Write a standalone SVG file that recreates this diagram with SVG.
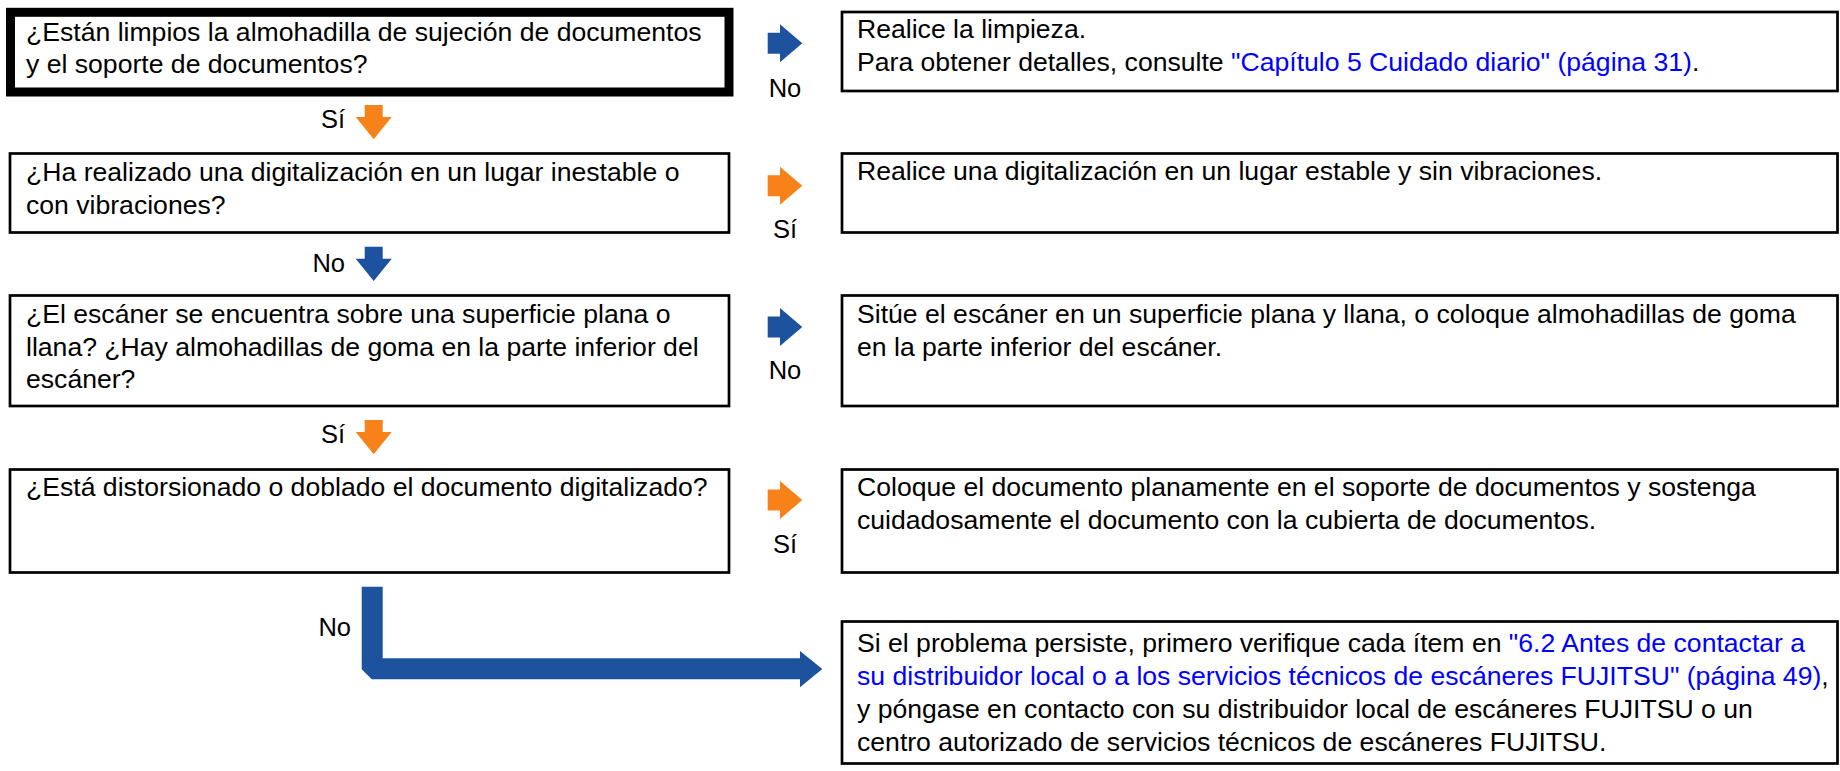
<svg xmlns="http://www.w3.org/2000/svg" width="1840" height="771" viewBox="0 0 1840 771">
<style>
.box{fill:#fff;stroke:#000;stroke-width:2.7}
.thick{fill:#fff;stroke:#000;stroke-width:9}
.t{font-family:"Liberation Sans",Arial,sans-serif;font-size:26.6px;fill:#000}
.lbl{font-family:"Liberation Sans",Arial,sans-serif;font-size:25.5px;fill:#000}
.lk{fill:#0000ff}
.blue{fill:#1c529e}
.orange{fill:#f8821a}
</style>
<defs>
<path id="ar" d="M0,-10.5 H12.3 V-19 L34.6,0 L12.3,19 V10.5 H0 Z"/>
<path id="ad" d="M-9,0 H9 V12 H18 L0,34.3 L-18,12 H-9 Z"/>
</defs>
<rect width="1840" height="771" fill="#fff"/>
<g id="connectors">
<use href="#ar" class="blue" transform="translate(767.7,43.3)"/>
<use href="#ar" class="orange" transform="translate(767.7,185.7)"/>
<use href="#ar" class="blue" transform="translate(767.7,327)"/>
<use href="#ar" class="orange" transform="translate(767.7,500)"/>
<use href="#ad" class="orange" transform="translate(373.7,105)"/>
<use href="#ad" class="blue" transform="translate(373.7,246.7)"/>
<use href="#ad" class="orange" transform="translate(373.7,420)"/>
<polygon class="blue" points="361.7,586.7 382.7,586.7 382.7,658.3 800,658.3 800,651 822.3,669 800,687.3 800,679.3 371.7,679.3 361.7,669.3"/>
<text class="lbl" x="785" y="97" text-anchor="middle">No</text>
<text class="lbl" x="785" y="238" text-anchor="middle">Sí</text>
<text class="lbl" x="785" y="379" text-anchor="middle">No</text>
<text class="lbl" x="785" y="553" text-anchor="middle">Sí</text>
<text class="lbl" x="345" y="128" text-anchor="end">Sí</text>
<text class="lbl" x="345" y="271.7" text-anchor="end">No</text>
<text class="lbl" x="345" y="443.3" text-anchor="end">Sí</text>
<text class="lbl" x="351" y="636" text-anchor="end">No</text>
</g>
<g id="q1">
<rect class="thick" x="10.5" y="12.3" width="718.5" height="79.7"/>
<text class="t" x="26" y="40.5">¿Están limpios la almohadilla de sujeción de documentos</text>
<text class="t" x="26" y="73">y el soporte de documentos?</text>
</g>
<g id="a1">
<rect class="box" x="842" y="12" width="995.5" height="79"/>
<text class="t" x="857" y="38">Realice la limpieza.</text>
<text class="t" x="857" y="70.5">Para obtener detalles, consulte <tspan class="lk">"Capítulo 5 Cuidado diario" (página 31)</tspan>.</text>
</g>
<g id="q2">
<rect class="box" x="10" y="153.5" width="719" height="79"/>
<text class="t" x="26" y="181">¿Ha realizado una digitalización en un lugar inestable o</text>
<text class="t" x="26" y="213.5">con vibraciones?</text>
</g>
<g id="a2">
<rect class="box" x="842" y="153.5" width="995.5" height="79"/>
<text class="t" x="857" y="180">Realice una digitalización en un lugar estable y sin vibraciones.</text>
</g>
<g id="q3">
<rect class="box" x="10" y="295.5" width="719" height="110.5"/>
<text class="t" x="26" y="323">¿El escáner se encuentra sobre una superficie plana o</text>
<text class="t" x="26" y="355.5">llana? ¿Hay almohadillas de goma en la parte inferior del</text>
<text class="t" x="26" y="388">escáner?</text>
</g>
<g id="a3">
<rect class="box" x="842" y="295.5" width="995.5" height="110.5"/>
<text class="t" x="857" y="323">Sitúe el escáner en un superficie plana y llana, o coloque almohadillas de goma</text>
<text class="t" x="857" y="355.5">en la parte inferior del escáner.</text>
</g>
<g id="q4">
<rect class="box" x="10" y="469.5" width="719" height="103"/>
<text class="t" x="26" y="496">¿Está distorsionado o doblado el documento digitalizado?</text>
</g>
<g id="a4">
<rect class="box" x="842" y="469.5" width="995.5" height="103"/>
<text class="t" x="857" y="496">Coloque el documento planamente en el soporte de documentos y sostenga</text>
<text class="t" x="857" y="528.5">cuidadosamente el documento con la cubierta de documentos.</text>
</g>
<g id="a5">
<rect class="box" x="842" y="621.5" width="995.5" height="142"/>
<text class="t" x="857" y="652">Si el problema persiste, primero verifique cada ítem en <tspan class="lk">"6.2 Antes de contactar a</tspan></text>
<text class="t" x="857" y="685"><tspan class="lk">su distribuidor local o a los servicios técnicos de escáneres FUJITSU" (página 49)</tspan>,</text>
<text class="t" x="857" y="718">y póngase en contacto con su distribuidor local de escáneres FUJITSU o un</text>
<text class="t" x="857" y="751">centro autorizado de servicios técnicos de escáneres FUJITSU.</text>
</g>
</svg>
